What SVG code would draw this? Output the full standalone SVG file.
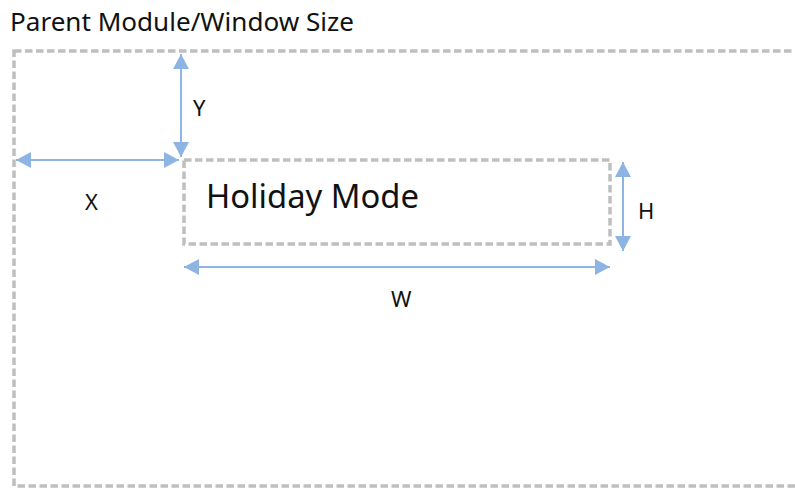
<svg xmlns="http://www.w3.org/2000/svg" width="795" height="488" viewBox="0 0 795 488">
<style>
.dash{fill:none;stroke:#bfbfbf;stroke-width:3.5;stroke-dasharray:7.5 3.5}
.arr{stroke:#8db4e2;stroke-width:2;fill:none;marker-start:url(#ah);marker-end:url(#ah)}
text{font-family:"Source Sans Pro","Noto Sans","Open Sans",sans-serif;fill:#111}
.lbl{font-size:22px}
</style>
<defs>
<marker id="ah" markerUnits="userSpaceOnUse" viewBox="0 0 15 16" refX="15" refY="8" markerWidth="15" markerHeight="16" orient="auto-start-reverse">
<path d="M0,0 L15,8 L0,16 Z" fill="#8db4e2"/>
</marker>
</defs>
<text x="10" y="31" font-size="25.5" textLength="344" lengthAdjust="spacingAndGlyphs">Parent Module/Window Size</text>
<g id="parent"><rect class="dash" x="14" y="51" width="800" height="435"/></g>
<g id="holiday">
<rect class="dash" x="184" y="160" width="426" height="84"/>
<text x="206" y="208" font-size="32" textLength="213" lengthAdjust="spacingAndGlyphs">Holiday Mode</text>
</g>
<g id="connectors">
<line class="arr" x1="181" y1="54" x2="181" y2="157"/>
<line class="arr" x1="16" y1="160" x2="179" y2="160"/>
<line class="arr" x1="623" y1="162" x2="623" y2="251"/>
<line class="arr" x1="184" y1="267" x2="610" y2="267"/>
</g>
<g id="labels">
<text class="lbl" x="193" y="116">Y</text>
<text class="lbl" x="85" y="210">X</text>
<text class="lbl" x="638" y="219">H</text>
<text class="lbl" x="391" y="307">W</text>
</g>
</svg>
